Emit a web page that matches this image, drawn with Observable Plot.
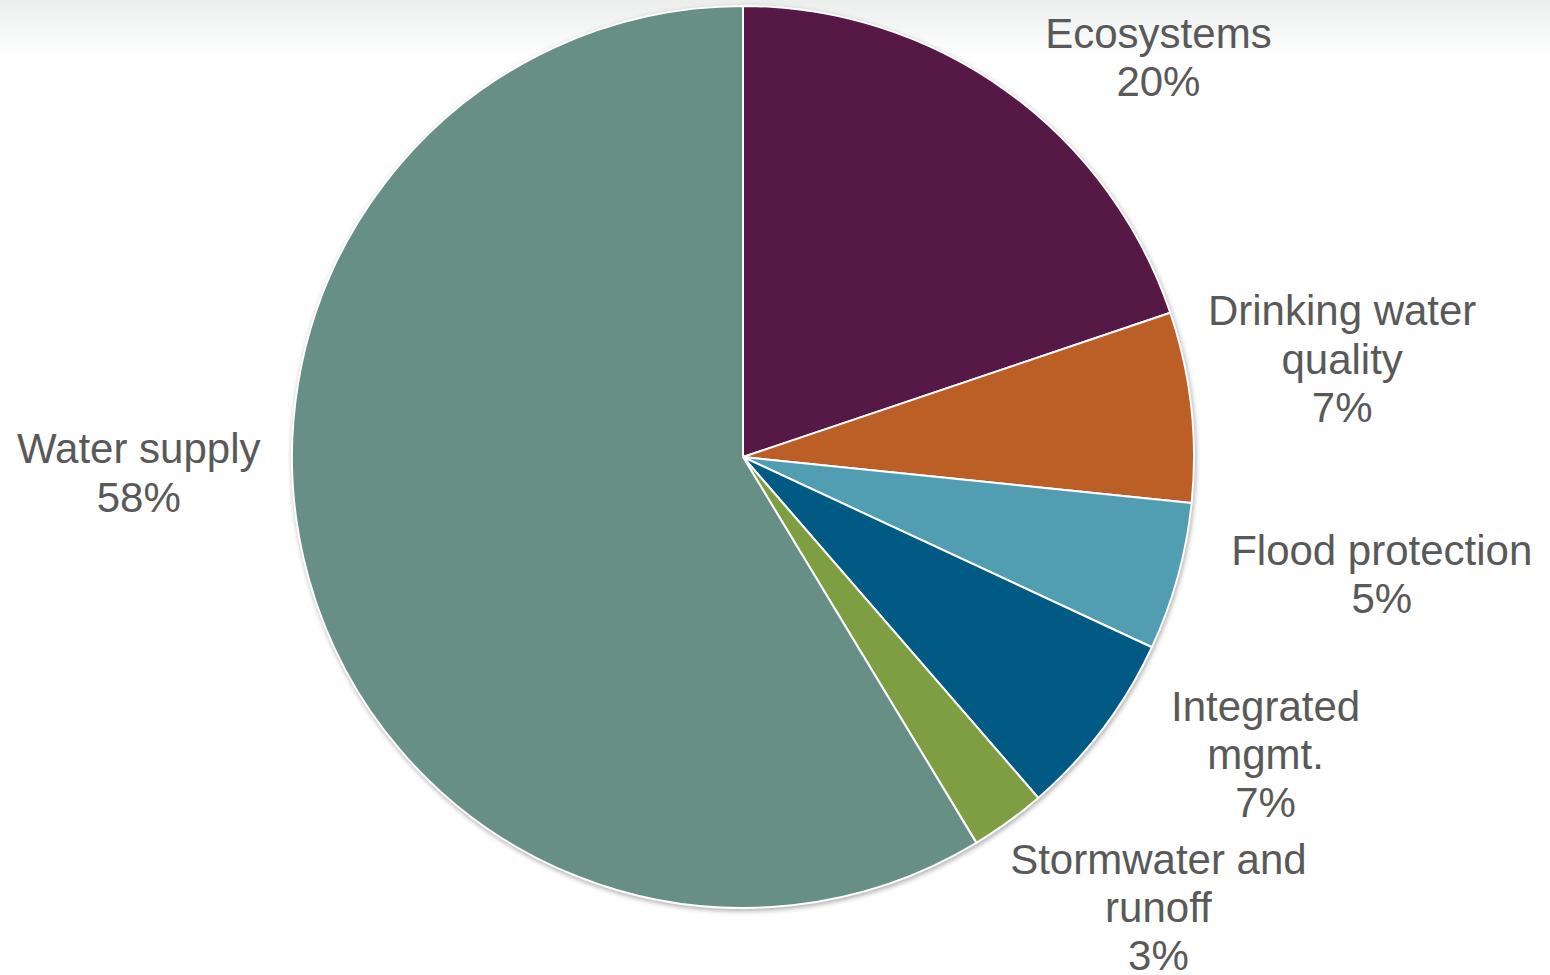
<!DOCTYPE html>
<html><head><meta charset="utf-8">
<script src="https://cdn.jsdelivr.net/npm/d3@7"></script>
<script src="https://cdn.jsdelivr.net/npm/@observablehq/plot@0.6"></script>
<style>
html,body{margin:0;padding:0;}
body{width:1550px;height:975px;overflow:hidden;background:linear-gradient(to bottom,#eceeee 0px,#f5f6f6 28px,#ffffff 60px);}
#chart svg{display:block;}
</style></head><body><div id="chart"></div>
<script>
// ---- data ----
const categories = ["Ecosystems", "Drinking water\nquality", "Flood protection", "Integrated\nmgmt.", "Stormwater and\nrunoff", "Water supply"];
const shares = [19.8, 6.8, 5.3, 6.7, 2.7, 58.6];
const pctLabels = ["20%", "7%", "5%", "7%", "3%", "58%"];
const colors = ["#561845", "#BC5F27", "#519DB1", "#005A84", "#7F9E41", "#678F85"];

// ---- layout (styles) ----
const W = 1550, H = 975;
const R_PX = 451;
const labelRadius = 1.3;
const labelNudgePx = [[73, 75], [16, -34], [73, -40], [54, -57], [70, -25], [-40, -143]];

const rows = categories.map((c, i) => ({category: c, value: shares[i], pct: pctLabels[i], color: colors[i]}));
const arcs = d3.pie().sort(null).value(d => d.value)(rows);
arcs.forEach((a, i) => {
  const mid = (a.startAngle + a.endAngle) / 2;
  a.data.lx = labelRadius * Math.sin(mid) + labelNudgePx[i][0] / R_PX;
  a.data.ly = labelRadius * Math.cos(mid) - labelNudgePx[i][1] / R_PX;
  a.data.label = a.data.category + "\n" + a.data.pct;
});

function pieMark(index, scales) {
  const cx = scales.x(0), cy = scales.y(0);
  const r = scales.x(1) - cx;
  const arc = d3.arc().innerRadius(0).outerRadius(r);
  const g = d3.create("svg:g")
    .attr("transform", `translate(${cx},${cy})`)
    .style("filter", "drop-shadow(1px 2px 2.5px rgba(0,0,0,0.32))");
  g.selectAll("path").data(arcs).join("path")
    .attr("d", arc)
    .attr("fill", d => d.data.color)
    .attr("stroke", "#ffffff")
    .attr("stroke-width", 2)
    .attr("stroke-linejoin", "round");
  return g.node();
}

const chart = Plot.plot({
  width: W,
  height: H,
  marginLeft: 292,
  marginRight: W - 292 - 2 * R_PX,
  marginTop: 6,
  marginBottom: H - 6 - 2 * R_PX,
  style: {background: "transparent", overflow: "visible"},
  x: {domain: [-1, 1], axis: null},
  y: {domain: [-1, 1], axis: null},
  marks: [
    pieMark,
    Plot.text(arcs.map(a => a.data), {
      x: "lx", y: "ly", text: "label",
      fontSize: 42,
      fontFamily: "'Liberation Sans', Arial, sans-serif",
      fill: "#595959",
      textAnchor: "middle",
      lineAnchor: "middle",
      lineHeight: 1.152
    })
  ]
});
document.getElementById("chart").appendChild(chart);
</script>
</body></html>
